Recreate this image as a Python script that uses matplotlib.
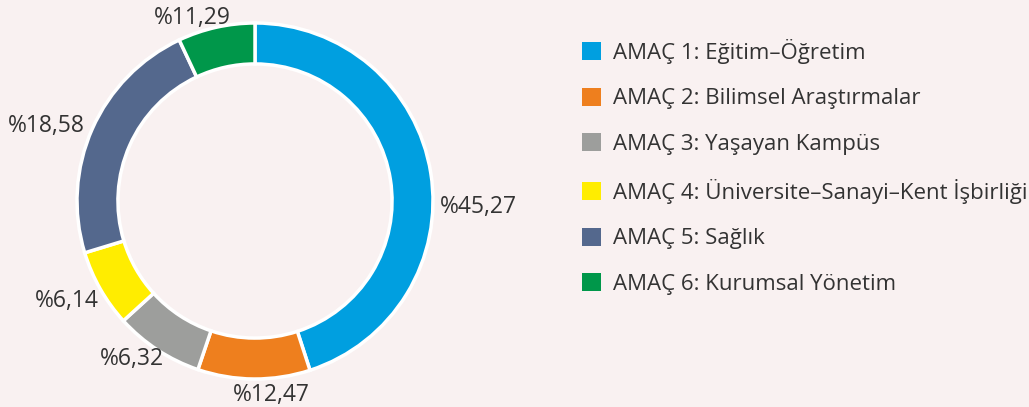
import numpy as np
import matplotlib.pyplot as plt

# Veriler
amaclar = ["AMAÇ 1: Eğitim–Öğretim",
           "AMAÇ 2: Bilimsel Araştırmalar",
           "AMAÇ 3: Yaşayan Kampüs",
           "AMAÇ 4: Üniversite–Sanayi–Kent İşbirliği",
           "AMAÇ 5: Sağlık",
           "AMAÇ 6: Kurumsal Yönetim"]
# dilim büyüklükleri (resimden ölçülen)
dilimler = [45.0, 10.2, 8.05, 7.05, 22.7, 7.0]
# dilim etiketleri
etiketler = ["%45,27", "%12,47", "%6,32", "%6,14", "%18,58", "%11,29"]
renkler = ["#009fe0", "#ee7f1e", "#9d9e9c", "#ffed00", "#54688d", "#00974a"]

# Etiket konumları (yarıçap birimi)
etiket_xy = [(1.04, -0.035), (0.09, -1.09), (-0.69, -0.89),
             (-1.06, -0.56), (-1.17, 0.42), (-0.35, 1.03)]
etiket_ha = ["left", "center", "center", "center", "center", "center"]

arka = "#f9f1f1"
yazi = "#333333"
plt.rcParams['font.family'] = ['Open Sans', 'DejaVu Sans']

W, H = 1029, 407
fig = plt.figure(figsize=(W / 100, H / 100), dpi=100, facecolor=arka)

# halka: merkez (255, 201) px, yarıçap 178 px
R, L = 178, 1.2
cx, cy = 255, H - 201
yar = L * R
ax = fig.add_axes([(cx - yar) / W, (cy - yar) / H, 2 * yar / W, 2 * yar / H])
ax.set_facecolor(arka)

wedges, _ = ax.pie(dilimler, colors=renkler, startangle=90, counterclock=False,
                   radius=1, wedgeprops=dict(width=0.23, edgecolor="white", linewidth=2.5))
ax.set_xlim(-L, L)
ax.set_ylim(-L, L)
ax.set_aspect("equal")
ax.axis("off")

for et, (x, y), ha in zip(etiketler, etiket_xy, etiket_ha):
    ax.text(x, y, et, ha=ha, va="center", fontsize=16.5, color=yazi)

fs = 16
fpx = fs * 100 / 72
leg = fig.legend(wedges, amaclar, loc="upper left",
                 bbox_to_anchor=(582 / W, 1 - 39 / H),
                 frameon=False, fontsize=fs, labelcolor=yazi,
                 handlelength=19 / fpx, handleheight=19 / fpx,
                 handletextpad=12 / fpx, labelspacing=1.075,
                 borderaxespad=0, borderpad=0)
for h in leg.legend_handles:
    h.set_edgecolor("none")

fig.savefig("out.png", dpi=100, facecolor=arka)
